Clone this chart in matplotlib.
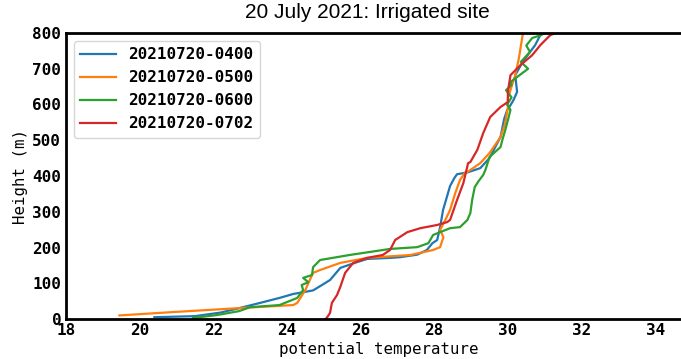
import matplotlib
matplotlib.use("Agg")
import matplotlib.pyplot as plt

title = "20 July 2021: Irrigated site"
labels = ["20210720-0400", "20210720-0500", "20210720-0600", "20210720-0702"]
colors = ["#1f77b4", "#ff7f0e", "#2ca02c", "#d62728"]

t_0400 = [20.4, 21.5, 22.2, 22.73, 23.27, 23.8, 24.17, 24.5, 24.71, 24.95, 25.17, 25.45, 25.9, 26.18, 26.8,
          27.08, 27.54, 27.8, 27.95, 28.08, 28.16, 28.24, 28.43, 28.55, 28.62, 28.9, 29.25, 29.5, 29.8,
          29.9, 29.98, 30.07, 30.15, 30.25, 30.2, 30.4, 30.74, 30.88, 30.95]
h_0400 = [5, 8, 18, 31, 45, 59, 70, 76, 80, 95, 109, 143, 159, 168, 171,
          173, 180, 193, 212, 221, 257, 305, 372, 395, 405, 410, 422, 450, 509,
          560, 584, 598, 612, 635, 682, 719, 766, 794, 800]
t_0500 = [19.45, 21.0, 22.8, 24.17, 24.28, 24.5, 24.58, 24.71, 24.9, 25.45, 26.18, 27.35, 27.97, 28.16,
          28.25, 28.16, 28.3, 28.43, 28.57, 28.7, 28.84, 28.9, 29.25, 29.5, 29.8, 29.93, 30.0, 30.0,
          30.2, 30.3, 30.4, 30.42]
h_0500 = [10, 20, 31, 39, 45, 81, 100, 129, 137, 157, 171, 179, 193, 201,
          229, 249, 277, 305, 352, 389, 410, 411, 436, 464, 509, 548, 593, 618,
          682, 730, 794, 800]
t_0600 = [21.45, 22.1, 22.7, 23.0, 23.8, 24.28, 24.44, 24.4, 24.58, 24.44, 24.68, 24.71, 24.9, 25.7, 26.8,
          27.54, 27.84, 27.97, 28.16, 28.43, 28.7, 28.9, 28.98, 29.03, 29.1, 29.2, 29.33, 29.39, 29.5,
          29.8, 29.85, 29.93, 30.0, 30.07, 29.98, 30.1, 29.95, 30.1, 30.07, 30.55, 30.35, 30.6, 30.5,
          30.66, 30.9, 31.0]
h_0600 = [3, 11, 22, 33, 39, 59, 81, 95, 103, 115, 123, 145, 165, 179, 196,
          201, 212, 235, 243, 254, 257, 277, 296, 333, 369, 385, 403, 417, 453,
          481, 501, 529, 556, 585, 600, 620, 640, 655, 663, 700, 719, 747, 765,
          786, 794, 800]
t_0702 = [25.05, 25.1, 25.17, 25.22, 25.36, 25.45, 25.58, 25.8, 26.18, 26.6, 26.8, 26.94, 27.27, 27.62,
          28.08, 28.35, 28.43, 28.62, 28.79, 28.92, 28.98, 29.17, 29.33, 29.52, 29.8, 30.0, 30.0,
          30.07, 30.34, 30.66, 30.88, 31.15, 31.3]
h_0702 = [0, 6, 17, 45, 67, 90, 129, 157, 171, 179, 193, 221, 243, 254,
          263, 271, 277, 333, 380, 436, 439, 473, 520, 565, 593, 607, 635,
          682, 710, 738, 766, 794, 800]

xs = [t_0400, t_0500, t_0600, t_0702]
ys = [h_0400, h_0500, h_0600, h_0702]

fig = plt.figure(figsize=(6.81, 3.59), dpi=100)
ax = fig.add_axes([66 / 681, 1 - 319 / 359, (692 - 66) / 681, (319 - 33) / 359])
for x, y, c, lab in zip(xs, ys, colors, labels):
    ax.plot(x, y, color=c, lw=1.6, label=lab)

ax.set_xlim(18, 35)
ax.set_ylim(0, 800)
ax.set_xticks([18, 20, 22, 24, 26, 28, 30, 32, 34])
ax.set_yticks([0, 100, 200, 300, 400, 500, 600, 700, 800])
for s in ax.spines.values():
    s.set_linewidth(2.0)
ax.spines["right"].set_visible(False)
ax.tick_params(axis="x", length=0, pad=3)
ax.tick_params(axis="y", length=0, pad=3.5)
for lbl in ax.get_xticklabels() + ax.get_yticklabels():
    lbl.set_family("DejaVu Sans Mono")
    lbl.set_weight("bold")
    lbl.set_fontsize(11.5)
ax.set_xlabel("potential temperature", family="DejaVu Sans Mono", fontsize=11.3, labelpad=2.5)
ax.set_ylabel("Height (m)", family="DejaVu Sans Mono", fontsize=11.3, labelpad=3)
fig.text(367 / 681, 1 - 13 / 359, title, ha="center", va="center", family="Liberation Sans", fontsize=15)
leg = ax.legend(loc="upper left", prop={"family": "DejaVu Sans Mono", "weight": "bold", "size": 11.5},
                handlelength=2.2, borderaxespad=0.5, framealpha=0.8)
fig.savefig("out.png", dpi=100)
